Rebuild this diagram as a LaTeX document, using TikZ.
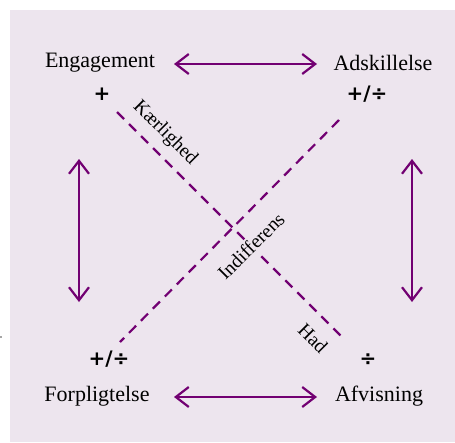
\documentclass[tikz,border=0pt]{standalone}
\usepackage{fontspec}
\usetikzlibrary{arrows.meta}
\setmainfont{Liberation Serif}
\newfontfamily\signfont{DejaVu Sans}
\definecolor{bgcol}{HTML}{EDE5EE}
\definecolor{plum}{HTML}{720072}
\tikzset{
  lbl/.style={font=\fontsize{22}{26}\selectfont, inner sep=0pt, anchor=center},
  sign/.style={font=\signfont\bfseries\fontsize{20}{24}\selectfont, inner sep=0pt},
  dlbl/.style={font=\fontsize{19.5}{23}\selectfont, inner sep=1pt},
  biarrow/.style={draw=plum, line width=2.2pt, {Straight Barb[length=13pt,width=20pt]}-{Straight Barb[length=13pt,width=20pt]}},
  dline/.style={draw=plum, line width=2.2pt, dash pattern=on 10pt off 7pt}
}
\begin{document}
\begin{tikzpicture}[x=1pt,y=-1pt]
\useasboundingbox (0,0) rectangle (455,442);
\fill[bgcol] (10,10) rectangle (455,442);
\fill[gray!70] (0,335.5) rectangle (1.5,337.5);
% dashed lines
\coordinate (k1) at (117,112);
\coordinate (k2) at (345,340);
\coordinate (i1) at (339,120);
\coordinate (i2) at (120,342);
\draw[dline] (k1) -- (k2);
\draw[dline] (i1) -- (i2);
% main labels
\node[lbl] (E) at (100,63) {Engagement};
\node[lbl] (A) at (383,63) {Adskillelse};
\node[lbl] (F) at (97,396) {Forpligtelse};
\node[lbl] (V) at (379,396) {Afvisning};
% signs
\node[sign] (sE) at (102,94) {+};
\node[sign] (sA) at (367,94) {+/÷};
\node[sign] (sF) at (109,359) {+/÷};
\node[sign] (sV) at (368,360) {÷};
% diagonal labels
\node[dlbl, rotate=-45] (kl) at (165,133) {Kærlighed};
\node[dlbl, rotate=45, fill=bgcol] (il) at (251,246) {Indifferens};
\node[dlbl, rotate=-45] (hl) at (313,338) {Had};
% arrows
\coordinate (a1) at (174,64);
\coordinate (a2) at (317,64);
\coordinate (b1) at (174,397);
\coordinate (b2) at (317,397);
\coordinate (c1) at (79,159);
\coordinate (c2) at (79,302);
\coordinate (d1) at (412,159);
\coordinate (d2) at (412,302);
\draw[biarrow] (a1) -- (a2);
\draw[biarrow] (b1) -- (b2);
\draw[biarrow] (c1) -- (c2);
\draw[biarrow] (d1) -- (d2);
\end{tikzpicture}
\end{document}
